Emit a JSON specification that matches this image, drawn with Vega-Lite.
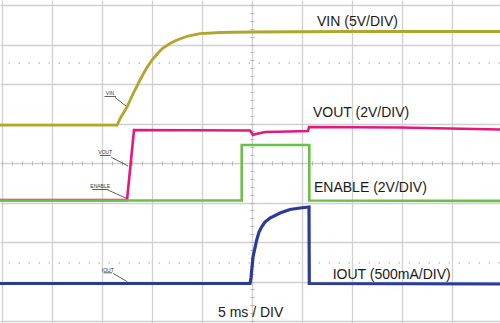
{
  "$schema": "https://vega.github.io/schema/vega-lite/v6.json",
  "width": 500,
  "height": 323,
  "padding": 0,
  "autosize": {"type": "none"},
  "background": "white",
  "config": {"view": {"stroke": null}},
  "datasets": {
    "traces": [
      {"s":"VIN","i":0,"t":-25.2,"v":0.96},
      {"s":"VIN","i":1,"t":-13.5,"v":0.96},
      {"s":"VIN","i":2,"t":-13.1,"v":1.165},
      {"s":"VIN","i":3,"t":-12.5,"v":1.418},
      {"s":"VIN","i":4,"t":-11.9,"v":1.747},
      {"s":"VIN","i":5,"t":-11.2,"v":2.101},
      {"s":"VIN","i":6,"t":-10.6,"v":2.38},
      {"s":"VIN","i":7,"t":-10.0,"v":2.608},
      {"s":"VIN","i":8,"t":-9.4,"v":2.785},
      {"s":"VIN","i":9,"t":-8.9,"v":2.911},
      {"s":"VIN","i":10,"t":-8.2,"v":3.025},
      {"s":"VIN","i":11,"t":-7.5,"v":3.114},
      {"s":"VIN","i":12,"t":-6.4,"v":3.215},
      {"s":"VIN","i":13,"t":-5.2,"v":3.278},
      {"s":"VIN","i":14,"t":-3.2,"v":3.304},
      {"s":"VIN","i":15,"t":-0.2,"v":3.316},
      {"s":"VIN","i":16,"t":9.8,"v":3.329},
      {"s":"VIN","i":17,"t":24.8,"v":3.329},
      {"s":"VOUT","i":0,"t":-25.2,"v":-0.94},
      {"s":"VOUT","i":1,"t":-12.5,"v":-0.94},
      {"s":"VOUT","i":2,"t":-11.8,"v":0.835},
      {"s":"VOUT","i":3,"t":-0.2,"v":0.823},
      {"s":"VOUT","i":4,"t":0.1,"v":0.709},
      {"s":"VOUT","i":5,"t":0.4,"v":0.734},
      {"s":"VOUT","i":6,"t":1.3,"v":0.785},
      {"s":"VOUT","i":7,"t":3.8,"v":0.797},
      {"s":"VOUT","i":8,"t":5.6,"v":0.81},
      {"s":"VOUT","i":9,"t":5.7,"v":0.911},
      {"s":"VOUT","i":10,"t":14.8,"v":0.899},
      {"s":"VOUT","i":11,"t":24.8,"v":0.848},
      {"s":"ENABLE","i":0,"t":-25.2,"v":-0.95},
      {"s":"ENABLE","i":1,"t":-1.03,"v":-0.95},
      {"s":"ENABLE","i":2,"t":-1.03,"v":0.456},
      {"s":"ENABLE","i":3,"t":5.73,"v":0.456},
      {"s":"ENABLE","i":4,"t":5.73,"v":-0.95},
      {"s":"ENABLE","i":5,"t":24.8,"v":-0.96},
      {"s":"IOUT","i":0,"t":-25.2,"v":-3.051},
      {"s":"IOUT","i":1,"t":-0.2,"v":-3.051},
      {"s":"IOUT","i":2,"t":-0.1,"v":-2.911},
      {"s":"IOUT","i":3,"t":0.1,"v":-2.38},
      {"s":"IOUT","i":4,"t":0.47,"v":-1.949},
      {"s":"IOUT","i":5,"t":0.7,"v":-1.747},
      {"s":"IOUT","i":6,"t":0.97,"v":-1.613},
      {"s":"IOUT","i":7,"t":1.3,"v":-1.494},
      {"s":"IOUT","i":8,"t":1.8,"v":-1.392},
      {"s":"IOUT","i":9,"t":2.8,"v":-1.266},
      {"s":"IOUT","i":10,"t":3.8,"v":-1.177},
      {"s":"IOUT","i":11,"t":4.8,"v":-1.139},
      {"s":"IOUT","i":12,"t":5.7,"v":-1.114},
      {"s":"IOUT","i":13,"t":5.73,"v":-3.051},
      {"s":"IOUT","i":14,"t":24.8,"v":-3.063}
    ],
    "big": [
      {"label":"VIN (5V/DIV)","t":6.5,"v":3.476},
      {"label":"VOUT (2V/DIV)","t":6.1,"v":1.172},
      {"label":"ENABLE (2V/DIV)","t":6.2,"v":-0.727},
      {"label":"IOUT (500mA/DIV)","t":8.07,"v":-2.937},
      {"label":"5 ms / DIV","t":-3.4,"v":-3.891}
    ],
    "small": [
      {"label":"VIN","t":-14.2,"v":1.722},
      {"label":"VOUT","t":-14.67,"v":0.22},
      {"label":"ENABLE","t":-15.18,"v":-0.641},
      {"label":"IOUT","t":-14.42,"v":-2.752}
    ],
    "segs": [
      {"t":-14.75,"t2":-13.6,"v":1.684,"v2":1.684},
      {"t":-13.7,"t2":-12.6,"v":1.658,"v2":1.443},
      {"t":-15.2,"t2":-14.13,"v":0.19,"v2":0.19},
      {"t":-14.07,"t2":-12.4,"v":0.144,"v2":-0.076},
      {"t":-15.97,"t2":-14.37,"v":-0.671,"v2":-0.671},
      {"t":-14.4,"t2":-12.57,"v":-0.684,"v2":-0.894},
      {"t":-14.85,"t2":-14.0,"v":-2.78,"v2":-2.78},
      {"t":-13.87,"t2":-12.47,"v":-2.797,"v2":-3.005}
    ],
    "dots": [{"v":2.53},{"v":-2.53}]
  },
  "resolve": {"axis": {"x": "independent", "y": "independent"}},
  "layer": [
    {
      "data": {"name": "dots"},
      "mark": {"type": "rule", "color": "#b8b8b8", "strokeWidth": 1.3, "strokeDash": [1.5, 8.5]},
      "encoding": {
        "y": {"field": "v", "type": "quantitative", "scale": {"domain": [-4.0506, 4.1266], "nice": false, "zero": false}, "axis": null}
      }
    },
    {
      "data": {"name": "traces"},
      "transform": [{"filter": "datum.s === 'VOUT'"}],
      "mark": {"type": "line", "color": "#e2187d", "strokeWidth": 2.6, "interpolate": "linear"},
      "encoding": {
        "x": {"field": "t", "type": "quantitative", "scale": {"domain": [-25.2, 24.8], "nice": false, "zero": false},
          "axis": {"values": [-25,-20,-15,-10,-5,0,5,10,15,20,25], "grid": true, "gridColor": "#d0d0d0", "gridWidth": 1.3, "labels": false, "ticks": false, "domain": false, "title": null}},
        "y": {"field": "v", "type": "quantitative",
          "axis": {"values": [-4,-3,-2,-1,0,1,2,3,4], "grid": true, "gridColor": "#d0d0d0", "gridWidth": 1.3, "labels": false, "ticks": false, "domain": false, "title": null}},
        "order": {"field": "i", "type": "quantitative"}
      }
    },
    {
      "data": {"name": "traces"},
      "transform": [{"filter": "datum.s === 'ENABLE'"}],
      "mark": {"type": "line", "color": "#6cc04a", "strokeWidth": 2.6},
      "encoding": {
        "x": {"field": "t", "type": "quantitative", "axis": null},
        "y": {"field": "v", "type": "quantitative", "axis": null},
        "order": {"field": "i", "type": "quantitative"}
      }
    },
    {
      "data": {"name": "traces"},
      "transform": [{"filter": "datum.s === 'IOUT'"}],
      "mark": {"type": "line", "color": "#2b3c98", "strokeWidth": 3.2},
      "encoding": {
        "x": {"field": "t", "type": "quantitative", "axis": null},
        "y": {"field": "v", "type": "quantitative", "axis": null},
        "order": {"field": "i", "type": "quantitative"}
      }
    },
    {
      "data": {"name": "traces"},
      "transform": [{"filter": "datum.s === 'VIN'"}],
      "mark": {"type": "line", "color": "#b3a52c", "strokeWidth": 2.8},
      "encoding": {
        "x": {"field": "t", "type": "quantitative", "axis": null},
        "y": {"field": "v", "type": "quantitative", "axis": null},
        "order": {"field": "i", "type": "quantitative"}
      }
    },
    {
      "data": {"name": "segs"},
      "mark": {"type": "rule", "color": "#333333", "strokeWidth": 0.8},
      "encoding": {
        "x": {"field": "t", "type": "quantitative", "axis": null},
        "x2": {"field": "t2"},
        "y": {"field": "v", "type": "quantitative", "axis": null},
        "y2": {"field": "v2"}
      }
    },
    {
      "data": {"name": "small"},
      "mark": {"type": "text", "font": "Liberation Sans", "fontSize": 5, "align": "center", "baseline": "alphabetic", "color": "#333333"},
      "encoding": {
        "x": {"field": "t", "type": "quantitative", "axis": null},
        "y": {"field": "v", "type": "quantitative", "axis": null},
        "text": {"field": "label"}
      }
    },
    {
      "data": {"name": "big"},
      "mark": {"type": "text", "font": "Liberation Sans", "fontSize": 14, "align": "left", "baseline": "alphabetic", "color": "#1a1a1a"},
      "encoding": {
        "x": {"field": "t", "type": "quantitative",
          "axis": {"orient": "bottom", "offset": -162, "values": [-25,-24,-23,-22,-21,-20,-19,-18,-17,-16,-15,-14,-13,-12,-11,-10,-9,-8,-7,-6,-5,-4,-3,-2,-1,0,1,2,3,4,5,6,7,8,9,10,11,12,13,14,15,16,17,18,19,20,21,22,23,24,25], "grid": false, "labels": false, "ticks": true, "tickSize": 4, "tickColor": "#b5b5b5", "tickWidth": 1, "domain": false, "title": null}},
        "y": {"field": "v", "type": "quantitative",
          "axis": {"orient": "left", "offset": -254, "values": [-4,-3.8,-3.6,-3.4,-3.2,-3,-2.8,-2.6,-2.4,-2.2,-2,-1.8,-1.6,-1.4,-1.2,-1,-0.8,-0.6,-0.4,-0.2,0,0.2,0.4,0.6,0.8,1,1.2,1.4,1.6,1.8,2,2.2,2.4,2.6,2.8,3,3.2,3.4,3.6,3.8,4], "grid": false, "labels": false, "ticks": true, "tickSize": 4, "tickColor": "#b5b5b5", "tickWidth": 1, "domain": false, "title": null}},
        "text": {"field": "label"}
      }
    }
  ]
}
